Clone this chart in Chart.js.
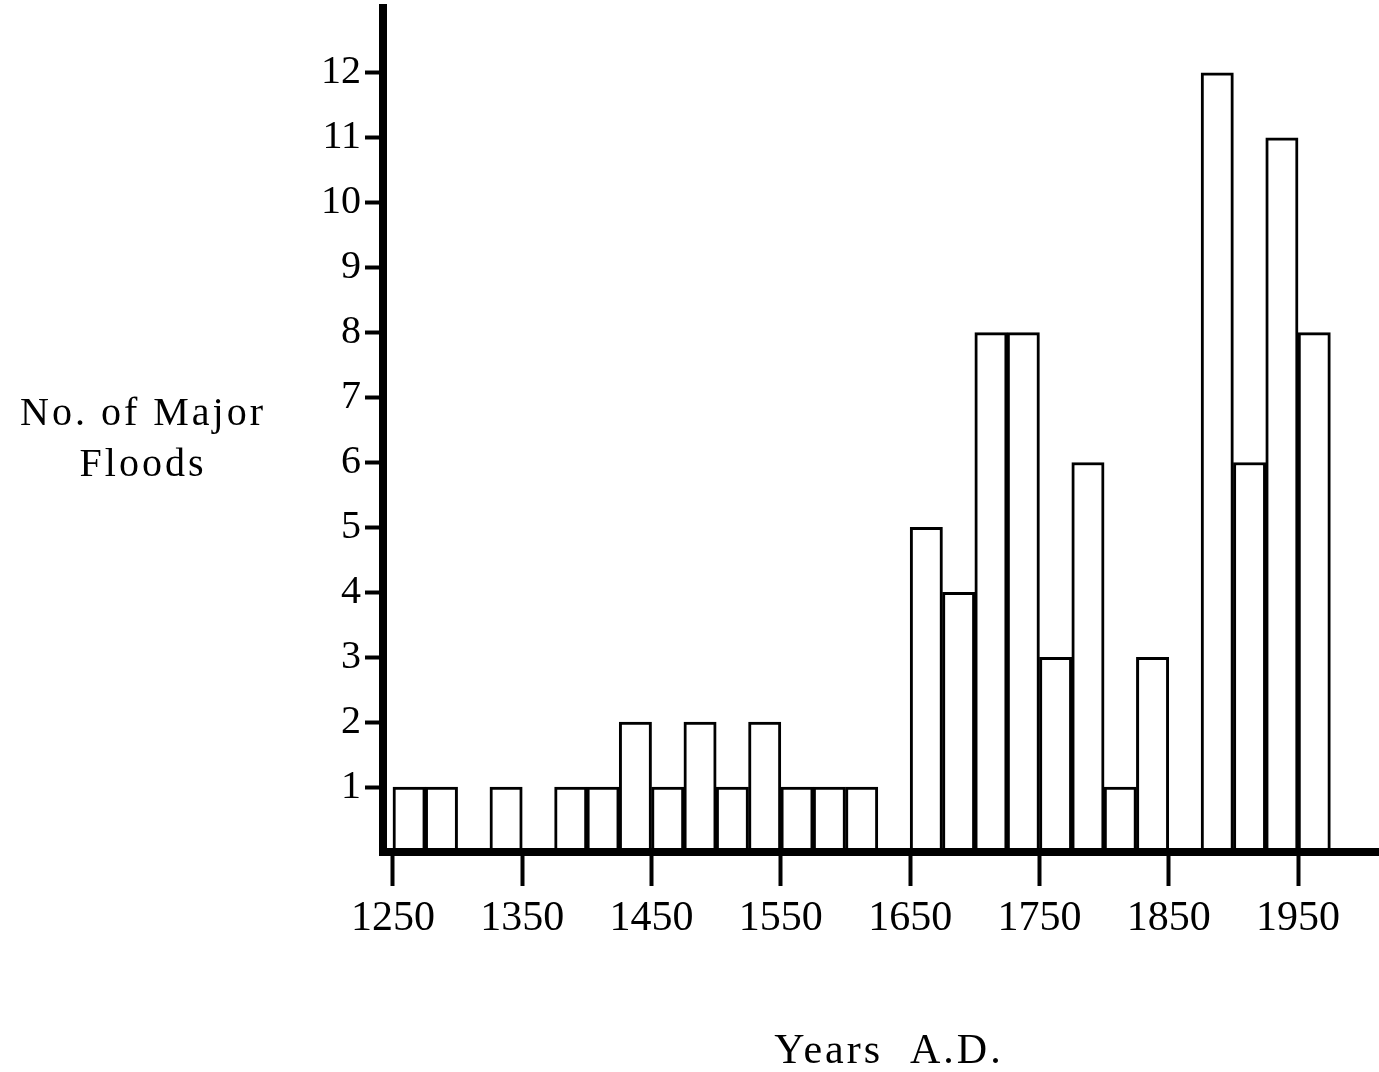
<!DOCTYPE html>
<html>
<head>
<meta charset="utf-8">
<script src="https://cdn.jsdelivr.net/npm/chart.js@4"></script>
<style>
  body { margin: 0; background: #fff; }
  #wrap { position: relative; width: 1379px; height: 1072px; }
</style>
</head>
<body>
<div id="wrap"><canvas id="floodChart" width="1379" height="1072"></canvas></div>
<script>
// 25-year periods, value = start of period
var periodStart = [1250, 1275, 1300, 1325, 1350, 1375, 1400, 1425, 1450, 1475,
                   1500, 1525, 1550, 1575, 1600, 1625, 1650, 1675, 1700, 1725,
                   1750, 1775, 1800, 1825, 1850, 1875, 1900, 1925, 1950];
var majorFloods = [1, 1, 0, 1, 0, 1, 1, 2, 1, 2,
                   1, 2, 1, 1, 1, 0, 5, 4, 8, 8,
                   3, 6, 1, 3, 0, 12, 6, 11, 8];
var yearTicks = [1250, 1350, 1450, 1550, 1650, 1750, 1850, 1950];
var countTicks = [1, 2, 3, 4, 5, 6, 7, 8, 9, 10, 11, 12];

var serif = '"Liberation Serif", "DejaVu Serif", serif';

var points = periodStart.map(function (s, i) {
  return { x: s + 12.5, y: majorFloods[i] };
});

// axis titles drawn as text on the canvas
var titles = {
  id: 'titles',
  afterDraw: function (chart) {
    var ctx = chart.ctx;
    ctx.save();
    ctx.fillStyle = '#000';
    ctx.textAlign = 'center';
    ctx.textBaseline = 'middle';
    ctx.font = '40px ' + serif;
    ctx.letterSpacing = '3px';
    ctx.fillText('No. of Major', 143, 414);
    ctx.fillText('Floods', 143, 465);
    ctx.font = '42px ' + serif;
    ctx.letterSpacing = '3px';
    ctx.fillText('Years  A.D.', 889, 1052);
    ctx.restore();
  }
};

var chart = new Chart(document.getElementById('floodChart').getContext('2d'), {
  type: 'bar',
  data: {
    datasets: [{
      label: 'Major floods',
      data: points,
      backgroundColor: '#fff',
      borderColor: '#000',
      // empty periods get no outline so the axis stays clean
      borderWidth: function (c) { return c.raw && c.raw.y === 0 ? 0 : 3; },
      barPercentage: 1,
      categoryPercentage: 1
    }]
  },
  options: {
    responsive: false,
    animation: false,
    layout: { padding: { top: 8, left: 0, right: 0, bottom: 0 } },
    plugins: {
      legend: { display: false },
      tooltip: { enabled: false }
    },
    scales: {
      x: {
        type: 'linear',
        offset: false,
        min: 1242.3,
        max: 2012.6,
        afterBuildTicks: function (scale) {
          scale.ticks = yearTicks.map(function (v) { return { value: v }; });
        },
        afterFit: function (scale) {
          scale.height = 220;
          scale.paddingLeft = 0;
          scale.paddingRight = 0;
        },
        border: { display: true, color: '#000', width: 8, z: 1 },
        grid: {
          offset: false,
          drawOnChartArea: false,
          drawTicks: true,
          tickLength: 34,
          tickWidth: 4,
          tickColor: '#000'
        },
        ticks: {
          color: '#000',
          padding: 8,
          maxRotation: 0,
          autoSkip: false,
          font: { family: serif, size: 42 },
          callback: function (v) { return String(v); }
        }
      },
      y: {
        min: 0,
        max: 13,
        afterBuildTicks: function (scale) {
          scale.ticks = countTicks.map(function (v) { return { value: v }; });
        },
        afterFit: function (scale) {
          scale.width = 383;
          scale.paddingTop = 0;
          scale.paddingBottom = 0;
        },
        border: { display: true, color: '#000', width: 8 },
        grid: {
          drawOnChartArea: false,
          drawTicks: true,
          tickLength: 18,
          tickWidth: 4,
          tickColor: '#000'
        },
        ticks: {
          color: '#000',
          padding: 4,
          autoSkip: false,
          font: { family: serif, size: 40 }
        }
      }
    }
  },
  plugins: [titles]
});
</script>
</body>
</html>
